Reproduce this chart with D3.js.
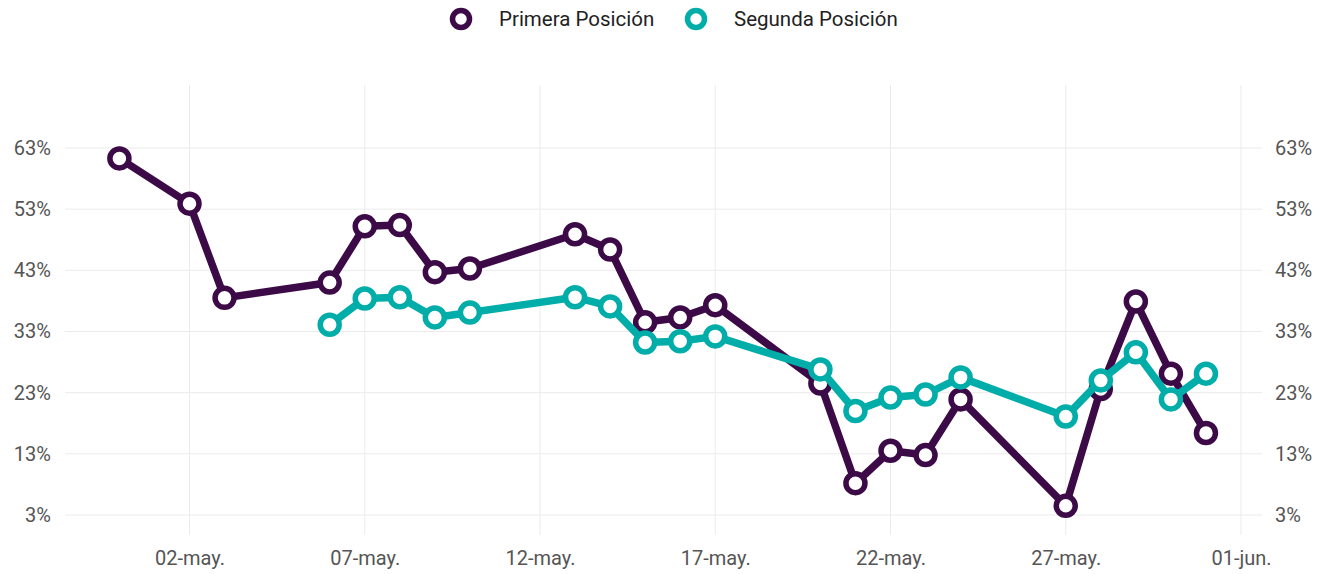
<!DOCTYPE html>
<html>
<head>
<meta charset="utf-8">
<script src="https://cdn.jsdelivr.net/npm/d3@7"></script>
<style>
  body { margin: 0; background: #fff; font-family: Roboto, "Noto Sans", sans-serif; }
  .axis text { fill: #555; font-size: 20px; }
</style>
</head>
<body>
<div id="chart"></div>
<script>
// Data
const primeraDates = ["2020-04-30", "2020-05-02", "2020-05-03", "2020-05-06", "2020-05-07", "2020-05-08",
  "2020-05-09", "2020-05-10", "2020-05-13", "2020-05-14", "2020-05-15", "2020-05-16", "2020-05-17",
  "2020-05-20", "2020-05-21", "2020-05-22", "2020-05-23", "2020-05-24", "2020-05-27", "2020-05-28",
  "2020-05-29", "2020-05-30", "2020-05-31"];
const primeraValues = [61.3, 53.9, 38.5, 41.0, 50.2, 50.4, 42.7, 43.3, 48.9, 46.4, 34.5, 35.3, 37.3,
  24.5, 8.2, 13.5, 12.8, 21.9, 4.5, 23.6, 37.9, 26.1, 16.4];

const segundaDates = ["2020-05-06", "2020-05-07", "2020-05-08", "2020-05-09", "2020-05-10", "2020-05-13",
  "2020-05-14", "2020-05-15", "2020-05-16", "2020-05-17", "2020-05-20", "2020-05-21", "2020-05-22",
  "2020-05-23", "2020-05-24", "2020-05-27", "2020-05-28", "2020-05-29", "2020-05-30", "2020-05-31"];
const segundaValues = [34.1, 38.4, 38.6, 35.3, 36.1, 38.6, 37.1, 31.2, 31.4, 32.2, 26.8, 20.0, 22.2,
  22.7, 25.5, 19.1, 25.0, 29.6, 21.9, 26.1];

const yTicks = [3, 13, 23, 33, 43, 53, 63];
const xTicks = ["2020-05-02", "2020-05-07", "2020-05-12", "2020-05-17", "2020-05-22", "2020-05-27", "2020-06-01"];
const monthNames = ["ene.", "feb.", "mar.", "abr.", "may.", "jun.", "jul.", "ago.", "sep.", "oct.", "nov.", "dic."];

const seriesNames = ["Primera Posición", "Segunda Posición"];
const colors = ["#3c0a46", "#00ada9"];

const width = 1317;
const height = 574;
const plot = { left: 65, right: 1262, top: 85, bottom: 535 };

const parse = d3.utcParse("%Y-%m-%d");
const series = [
  { name: seriesNames[0], color: colors[0], values: primeraDates.map((d, i) => ({ date: parse(d), value: primeraValues[i] })) },
  { name: seriesNames[1], color: colors[1], values: segundaDates.map((d, i) => ({ date: parse(d), value: segundaValues[i] })) },
];

// Scales
const x = d3.scaleUtc()
  .domain([parse("2020-05-02"), parse("2020-06-01")])
  .range([189.5, 1241]);

const y = d3.scaleLinear()
  .domain([3, 63])
  .range([515, 148]);

const svg = d3.create("svg")
  .attr("width", width)
  .attr("height", height)
  .attr("viewBox", [0, 0, width, height]);

// Grid
const grid = svg.append("g").attr("stroke", "#ebebeb").attr("stroke-width", 1);
grid.selectAll("line.h")
  .data(yTicks)
  .join("line")
  .attr("class", "h")
  .attr("x1", plot.left).attr("x2", plot.right)
  .attr("y1", (d) => y(d)).attr("y2", (d) => y(d));
grid.selectAll("line.v")
  .data(xTicks.map(parse))
  .join("line")
  .attr("class", "v")
  .attr("x1", (d) => x(d)).attr("x2", (d) => x(d))
  .attr("y1", plot.top).attr("y2", plot.bottom);

// Axes
const fmtDate = (d) => `${d3.utcFormat("%d")(d)}-${monthNames[d.getUTCMonth()]}`;

svg.append("g")
  .attr("class", "axis")
  .attr("transform", `translate(0,${plot.bottom})`)
  .call(d3.axisBottom(x).tickValues(xTicks.map(parse)).tickFormat(fmtDate).tickSize(0).tickPadding(16))
  .call((g) => g.select(".domain").remove())
  .call((g) => g.selectAll("text").attr("font-family", "Roboto, sans-serif"));

svg.append("g")
  .attr("class", "axis")
  .attr("transform", `translate(${plot.left},0)`)
  .call(d3.axisLeft(y).tickValues(yTicks).tickFormat((d) => d + "%").tickSize(0).tickPadding(14))
  .call((g) => g.select(".domain").remove())
  .call((g) => g.selectAll("text").attr("font-family", "Roboto, sans-serif"));

svg.append("g")
  .attr("class", "axis")
  .attr("transform", `translate(${plot.right},0)`)
  .call(d3.axisRight(y).tickValues(yTicks).tickFormat((d) => d + "%").tickSize(0).tickPadding(13))
  .call((g) => g.select(".domain").remove())
  .call((g) => g.selectAll("text").attr("font-family", "Roboto, sans-serif"));

// Lines and points
const line = d3.line()
  .x((d) => x(d.date))
  .y((d) => y(d.value));

series.forEach((s) => {
  svg.append("path")
    .datum(s.values)
    .attr("fill", "none")
    .attr("stroke", s.color)
    .attr("stroke-width", 7.5)
    .attr("stroke-linejoin", "round")
    .attr("d", line);

  svg.append("g")
    .selectAll("circle")
    .data(s.values)
    .join("circle")
    .attr("cx", (d) => x(d.date))
    .attr("cy", (d) => y(d.value))
    .attr("r", 9.5)
    .attr("fill", "#fff")
    .attr("stroke", s.color)
    .attr("stroke-width", 5.5);
});

// Legend
const legendX = [461, 696];
const legend = svg.append("g")
  .selectAll("g")
  .data(series)
  .join("g")
  .attr("transform", (d, i) => `translate(${legendX[i]},19)`);

legend.append("circle")
  .attr("r", 8.5)
  .attr("fill", "#fff")
  .attr("stroke", (d) => d.color)
  .attr("stroke-width", 5.5);

legend.append("text")
  .attr("x", 38)
  .attr("dy", "0.35em")
  .attr("fill", "#222")
  .attr("font-size", 20.5)
  .attr("font-family", "Roboto, sans-serif")
  .text((d) => d.name);

document.getElementById("chart").appendChild(svg.node());
</script>
</body>
</html>
